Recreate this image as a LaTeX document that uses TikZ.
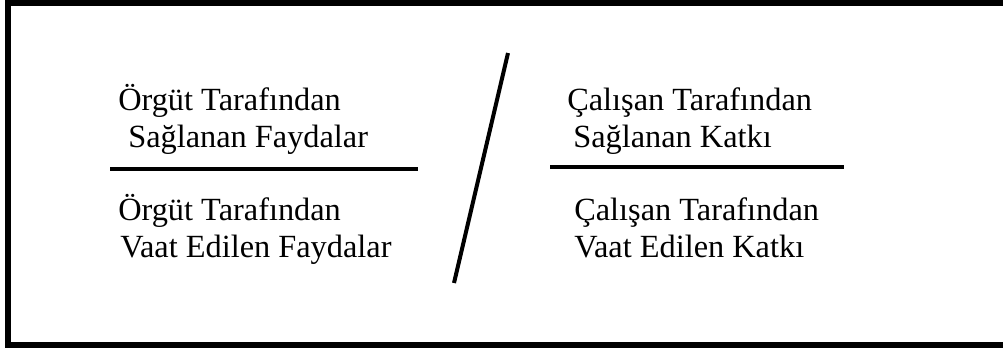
\documentclass[tikz,border=0pt]{standalone}
\usepackage{fontspec}
\setmainfont{Liberation Serif}
\usepackage{tikz}
\usetikzlibrary{positioning, calc}

\tikzset{
  term/.style={font=\fontsize{23}{27}\selectfont, inner sep=0pt,
    anchor=base west},
  barline/.style={line width=0.09cm, black},
}

\begin{document}
\begin{tikzpicture}[x=0.025cm, y=-0.025cm]
  \useasboundingbox (0,0) rectangle (1003,349);
  % Frame
  \begin{scope}
    \clip (0,0) rectangle (1003,349);
    \draw[line width=0.15cm] (8,2.5) rectangle (1012,345);
  \end{scope}

  % Left fraction
  \node[term] (lt1) at (118,110) {Örgüt Tarafından};
  \node[term] (lt2) at (128,147) {Sağlanan Faydalar};
  \node[term] (lb1) at (118,220) {Örgüt Tarafından};
  \node[term] (lb2) at (120,257) {Vaat Edilen Faydalar};
  \coordinate (lruleA) at (110,169);
  \coordinate (lruleB) at (418,169);
  \draw[barline] (lruleA) -- (lruleB);

  % Slash
  \coordinate (slashA) at (454,283);
  \coordinate (slashB) at (508,53);
  \draw[line width=0.1cm] (slashA) -- (slashB);

  % Right fraction
  \node[term] (rt1) at (567,110) {Çalışan Tarafından};
  \node[term] (rt2) at (573,147) {Sağlanan Katkı};
  \node[term] (rb1) at (574,220) {Çalışan Tarafından};
  \node[term] (rb2) at (574,257) {Vaat Edilen Katkı};
  \coordinate (rruleA) at (550,167);
  \coordinate (rruleB) at (844,167);
  \draw[barline] (rruleA) -- (rruleB);
\end{tikzpicture}
\end{document}
